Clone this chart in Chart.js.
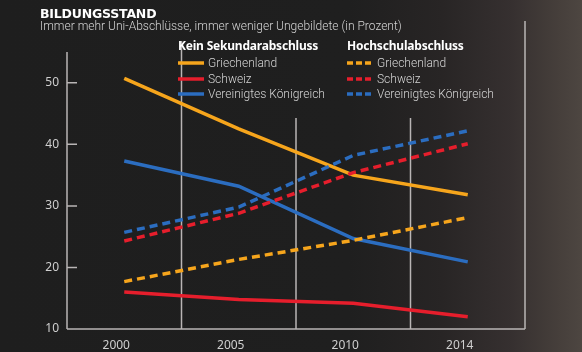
<!DOCTYPE html>
<html>
<head>
<meta charset="utf-8">
<script src="https://cdn.jsdelivr.net/npm/chart.js@4"></script>
<style>
  html, body { margin: 0; padding: 0; }
  body {
    width: 582px; height: 352px; overflow: hidden; position: relative;
    background: linear-gradient(90deg, #1e1e1e 0%, #1f1f1f 60%, #282525 76%, #363030 88%, #463f3b 96%, #4d4641 100%);
    font-family: "Noto Sans", sans-serif;
  }
  #chart { position: absolute; left: 0; top: 0; }
  .title { position: absolute; left: 40px; top: 6px; color: #fff; font: bold 12.5px "DejaVu Sans", sans-serif; letter-spacing: -0.2px; }
  .sub { position: absolute; left: 40px; top: 19px; color: #d4d4d4; font: 300 12px Roboto, sans-serif; }
  .lg { position: absolute; color: #d4d4d4; font: 300 12px Roboto, sans-serif; }
  .lg h4 { margin: 0 0 1px 0; color: #fff; font: bold 12px "Noto Sans", sans-serif; letter-spacing: -0.2px; }
  .row { display: flex; align-items: center; height: 15.7px; }
  .row svg { margin-right: 4px; }
</style>
</head>
<body>
<canvas id="chart" width="582" height="352"></canvas>
<div class="title">BILDUNGSSTAND</div>
<div class="sub">Immer mehr Uni-Abschlüsse, immer weniger Ungebildete (in Prozent)</div>
<div class="lg" id="lgKein" style="left:178px; top:37px;"></div>
<div class="lg" id="lgHoch" style="left:347px; top:37px;"></div>
<script>
// --- Data ---
const years = ["2000", "2005", "2010", "2014"];
const yTicks = [10, 20, 30, 40, 50];
const countries = ["Griechenland", "Schweiz", "Vereinigtes Königreich"];

// kein Sekundarabschluss
const grcKein = [50.7, 42.5, 35.0, 31.8];
const chKein = [16.0, 14.8, 14.2, 12.0];
const ukKein = [37.3, 33.2, 24.7, 20.9];
// Hochschulabschluss
const grcHoch = [17.7, 21.3, 24.4, 28.1];
const chHoch = [24.3, 28.8, 35.4, 40.1];
const ukHoch = [25.7, 29.8, 38.2, 42.2];

const colors = ["#f6a51c", "#e61e2c", "#2b6dc0"];
const dash = [8, 5];
const frameColor = "#b9b5b5";
// top ends of the frame lines (left axis, 3 separators, right border)
const frameTops = [52, 41, 118, 118, 21];

// --- Legend (HTML) ---
function swatch(color, dashed) {
  return `<svg width="26" height="4"><line x1="0" y1="2" x2="26" y2="2" stroke="${color}" stroke-width="3.5" ${dashed ? 'stroke-dasharray="6,3"' : ""}/></svg>`;
}
function buildLegend(id, title, dashed) {
  let html = `<h4>${title}</h4>`;
  countries.forEach((c, i) => {
    html += `<div class="row">${swatch(colors[i], dashed)}<span>${c}</span></div>`;
  });
  document.getElementById(id).innerHTML = html;
}
buildLegend("lgKein", "Kein Sekundarabschluss", false);
buildLegend("lgHoch", "Hochschulabschluss", true);

// --- Frame plugin ---
const framePlugin = {
  id: "frame",
  beforeDatasetsDraw(chart) {
    const { ctx, chartArea } = chart;
    const xs = chart.scales.x;
    const ys = chart.scales.y;
    const bounds = [chartArea.left];
    for (let i = 0; i < years.length - 1; i++) {
      bounds.push((xs.getPixelForTick(i) + xs.getPixelForTick(i + 1)) / 2);
    }
    bounds.push(chartArea.right);
    ctx.save();
    ctx.strokeStyle = frameColor;
    ctx.lineWidth = 1.5;
    ctx.beginPath();
    bounds.forEach((x, i) => {
      ctx.moveTo(x, frameTops[i]);
      ctx.lineTo(x, chartArea.bottom);
    });
    ctx.moveTo(chartArea.left, chartArea.bottom);
    ctx.lineTo(chartArea.right, chartArea.bottom);
    // inner tick marks on the y axis
    yTicks.slice(1).forEach(v => {
      const y = ys.getPixelForValue(v);
      ctx.moveTo(chartArea.left, y);
      ctx.lineTo(chartArea.left + 10, y);
    });
    ctx.stroke();
    ctx.restore();
  }
};

function ds(label, data, color, dashed) {
  return {
    label, data,
    borderColor: color,
    borderWidth: 3.5,
    borderDash: dashed ? dash : [],
    pointRadius: 0,
    tension: 0,
    fill: false,
  };
}

const ctx = document.getElementById("chart").getContext("2d");
new Chart(ctx, {
  type: "line",
  data: {
    labels: years,
    datasets: [
      ds("Griechenland (Hochschule)", grcHoch, colors[0], true),
      ds("Schweiz (Hochschule)", chHoch, colors[1], true),
      ds("Vereinigtes Königreich (Hochschule)", ukHoch, colors[2], true),
      ds("Griechenland", grcKein, colors[0], false),
      ds("Schweiz", chKein, colors[1], false),
      ds("Vereinigtes Königreich", ukKein, colors[2], false),
    ]
  },
  options: {
    responsive: false,
    animation: false,
    layout: { padding: { top: 52, right: 57, left: 0, bottom: 0 } },
    plugins: { legend: { display: false }, tooltip: { enabled: false } },
    scales: {
      x: {
        type: "category",
        offset: true,
        grid: { display: false },
        border: { display: false },
        ticks: { color: "#cfcfcf", font: { family: "Noto Sans", size: 12 }, padding: 1, labelOffset: -8, maxRotation: 0 },
        afterFit: s => { s.height = 23; }
      },
      y: {
        min: 10, max: 55,
        grid: { display: false, drawTicks: false },
        border: { display: false },
        afterBuildTicks: s => { s.ticks = yTicks.map(v => ({ value: v })); },
        ticks: { color: "#cfcfcf", font: { family: "Noto Sans", size: 12 }, padding: 8 },
        afterFit: s => { s.width = 67; }
      }
    }
  },
  plugins: [framePlugin]
});
</script>
</body>
</html>
